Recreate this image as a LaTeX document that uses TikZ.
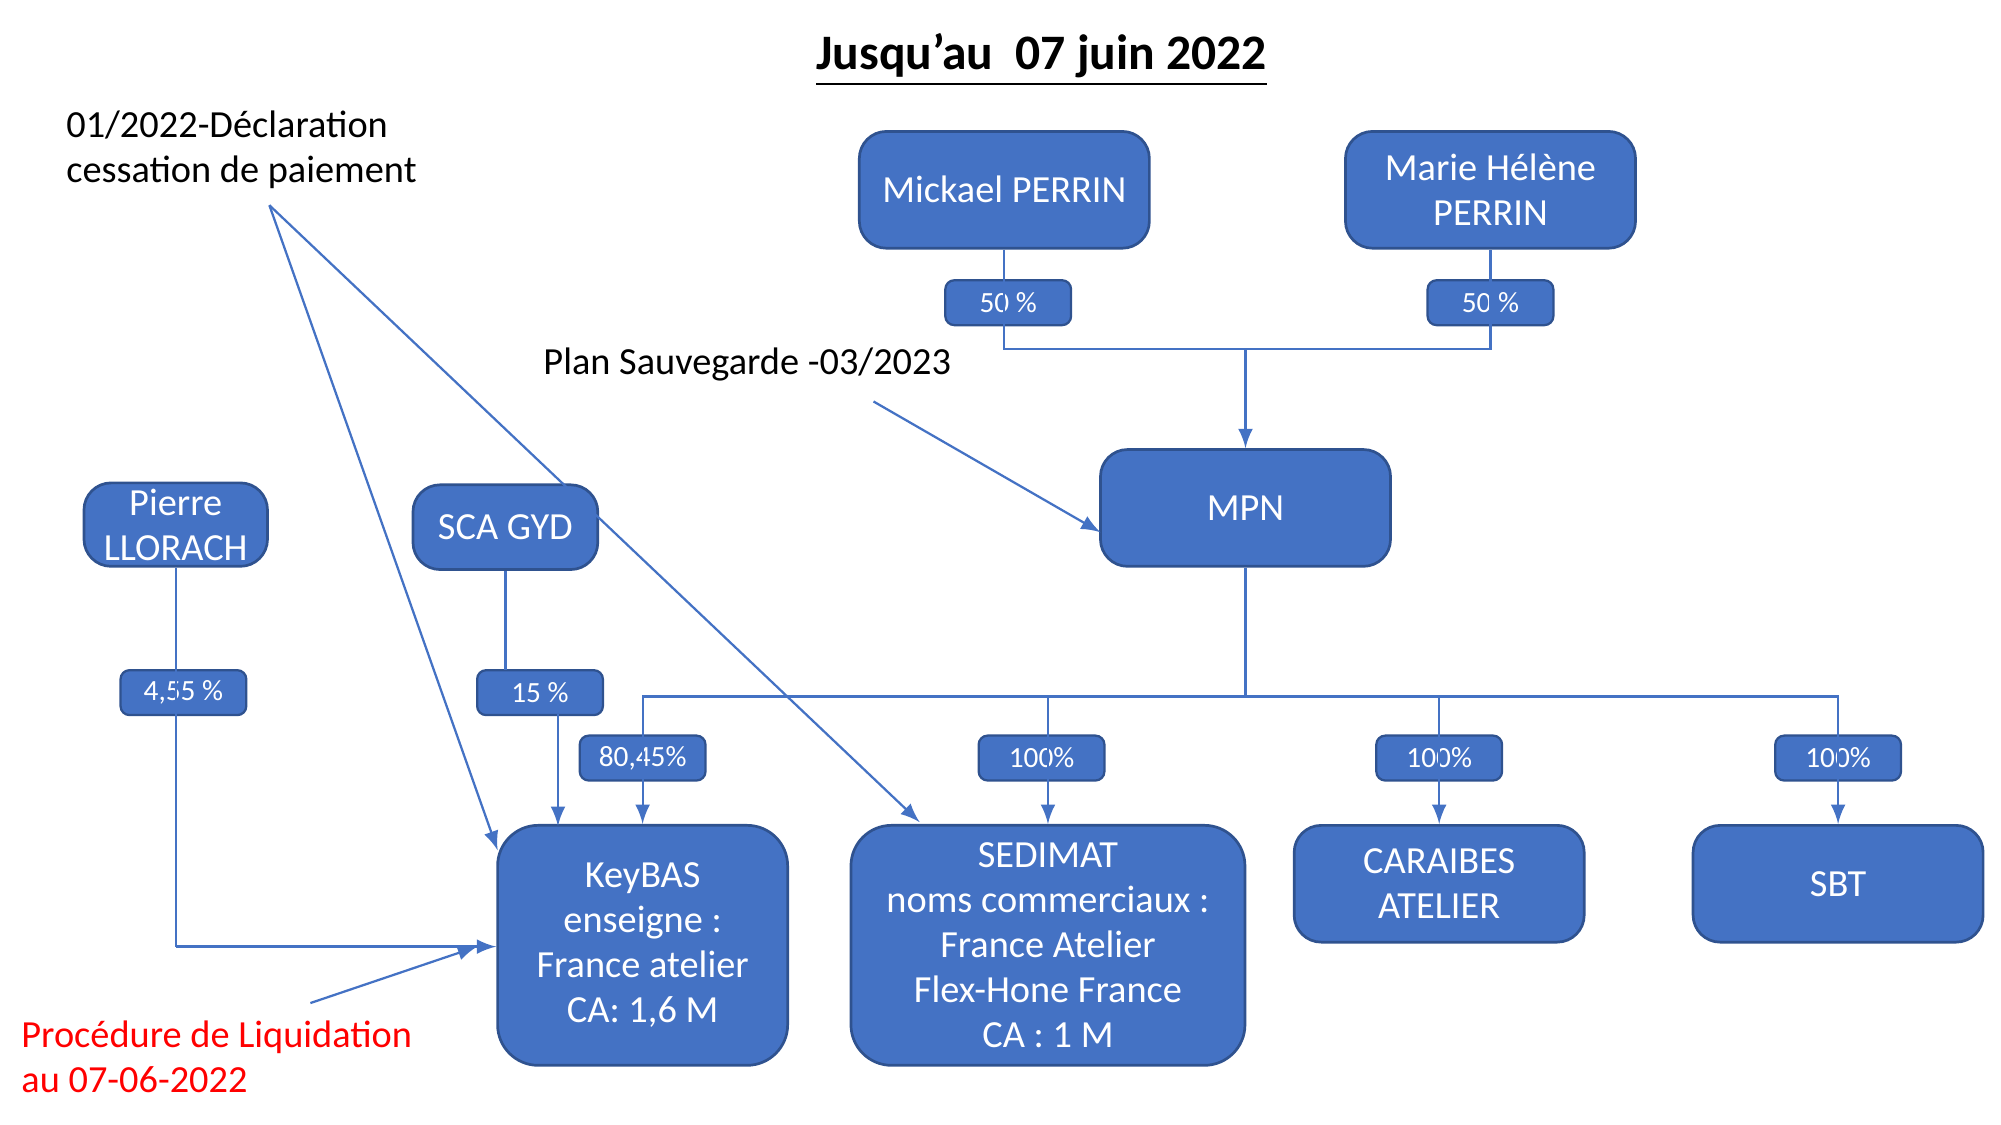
\documentclass[tikz,border=0pt]{standalone}
\usepackage{fontspec}
\setmainfont{Carlito}
\usetikzlibrary{positioning}
\definecolor{boxblue}{HTML}{4472C4}
\definecolor{boxline}{HTML}{2F528F}
\tikzset{
  entity/.style={draw=boxline, fill=boxblue, text=white, rounded corners=6pt, line width=0.6pt,
    align=center, inner sep=0pt, font=\fontsize{8.5}{10}\selectfont},
  share/.style={draw=boxline, fill=boxblue, text=white, rounded corners=2pt, line width=0.5pt,
    minimum width=0.98cm, minimum height=0.35cm, inner sep=0pt, font=\fontsize{6.5}{7}\selectfont},
  link/.style={boxblue, line width=0.5pt},
  note/.style={align=left, anchor=west, font=\fontsize{8.5}{10}\selectfont, inner sep=0pt}
}
\begin{document}
\begin{tikzpicture}[x=0.01cm, y=-0.01cm, >=latex]
\useasboundingbox (0,0) rectangle (1560,877);

% title
\node[font=\bfseries\fontsize{11}{13}\selectfont] (title) at (812,47) {\underline{Jusqu'au\ \ 07 juin 2022}};

% the owners
\node[entity, minimum width=2.26cm, minimum height=0.91cm] (mickael) at (783,148) {Mickael PERRIN};
\node[entity, minimum width=2.26cm, minimum height=0.91cm] (marie) at (1162,148) {Marie Hélène\\PERRIN};
\node[entity, minimum width=2.26cm, minimum height=0.91cm] (mpn) at (971,396) {MPN};
\node[entity, minimum width=1.43cm, minimum height=0.65cm] (pierre) at (137,409) {Pierre\\LLORACH};
\node[entity, minimum width=1.44cm, minimum height=0.66cm] (sca) at (394,411) {SCA GYD};

% the companies
\node[entity, minimum width=2.26cm, minimum height=1.87cm, rounded corners=9pt] (keybas) at (501,737) {KeyBAS\\enseigne :\\France atelier\\CA: 1,6 M};
\node[entity, minimum width=3.07cm, minimum height=1.87cm, rounded corners=9pt] (sedimat) at (817,737) {SEDIMAT\\noms commerciaux :\\France Atelier\\Flex-Hone France\\CA : 1 M};
\node[entity, minimum width=2.26cm, minimum height=0.91cm] (caraibes) at (1122,689) {CARAIBES\\ATELIER};
\node[entity, minimum width=2.26cm, minimum height=0.91cm] (sbt) at (1433,689) {SBT};

% shares
\node[share] (s1) at (786,236) {50 \%};
\node[share] (s2) at (1162,236) {50 \%};
\node[share] (s3) at (143,540) {4,55 \%};
\node[share] (s4) at (421,540) {15 \%};
\node[share] (s5) at (501,591) {80,45\%};
\node[share] (s6) at (812,591) {100\%};
\node[share] (s7) at (1122,591) {100\%};
\node[share] (s8) at (1433,591) {100\%};

\coordinate (top) at (971,272);
\coordinate (bus) at (971,543);

% links
\draw[link] (mickael.south -| 783,0) -- (783,272) -- (1162,272) -- (marie.south);
\draw[link, ->] (top) -- (mpn.north);
\draw[link] (mpn.south) -- (bus);
\draw[link, ->] (bus) -- (501,543) -- (keybas.north);
\draw[link, ->] (bus) -- (817,543) -- (sedimat.north);
\draw[link, ->] (bus) -- (1122,543) -- (caraibes.north);
\draw[link, ->] (bus) -- (1433,543) -- (sbt.north);
\draw[link] (pierre.south) -- (137,738);
\draw[link, ->] (137,738) -- (keybas.west |- 0,738);
\draw[link] (sca.south) -- (394,522);
\draw[link, ->] (435,557) -- (435,644);

% notes
\node[note] (decl) at (51,117) {01/2022-Déclaration\\cessation de paiement};
\node[note] (plan) at (423,284) {Plan Sauvegarde -03/2023};
\node[note, text=red] (liq) at (16,824) {Procédure de Liquidation\\au 07-06-2022};
\coordinate (d0) at (210,160);
\coordinate (p0) at (681,313);
\coordinate (l0) at (242,782);
\draw[link, ->] (d0) -- (388,663);
\draw[link, ->] (d0) -- (717,641);
\draw[link, ->] (p0) -- (858,415);
\draw[link, ->] (l0) -- (372,738);
\end{tikzpicture}
\end{document}
